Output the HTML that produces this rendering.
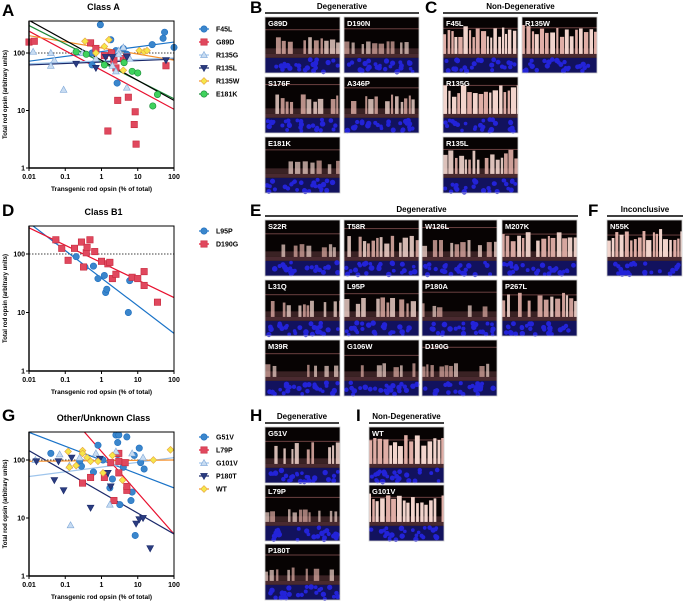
<!DOCTYPE html>
<html><head><meta charset="utf-8">
<style>
html,body{margin:0;padding:0;background:#fff;width:683px;height:604px;overflow:hidden}
svg{display:block;font-family:"Liberation Sans",sans-serif}
</style></head>
<body>
<svg id="fig" width="683" height="604" viewBox="0 0 683 604" xmlns="http://www.w3.org/2000/svg">
<defs>
<clipPath id="clipA"><rect x="29" y="21" width="145" height="147"/></clipPath>
<clipPath id="clipD"><rect x="29" y="226" width="145" height="145"/></clipPath>
<clipPath id="clipG"><rect x="29" y="432" width="145" height="144"/></clipPath>
</defs>
<g id="charts"></g>
<g id="tiles"></g>
</svg>
<script>
// ---- Panel A data ----
const A_F45L = [[0.93,310],[1.8,170],[0.55,100],[0.55,62],[2.7,30],[4,120],[5,95],[25,140],[50,180],[55,230],[100,125],[2.5,110]];
const A_G89D = [[0.01,155],[0.014,160],[0.5,150],[0.7,120],[1.2,90],[1.9,100],[2.2,75],[2.5,55],[2.8,15],[4,80],[5.5,17],[8,5.7],[8.5,9.5],[9,2.6],[1.5,4.4],[60,60],[5,85]];
const A_R135G = [[0.013,105],[0.04,100],[0.04,60],[0.05,75],[0.09,23],[0.3,100],[0.7,80],[2,60],[2.5,48],[3,110],[4,125],[5,25],[6,80],[3,95]];
const A_R135L = [[0.2,65],[0.7,55],[1.3,85],[2,85],[5,85],[60,75]];
const A_R135W = [[0.35,160],[0.7,100],[1.2,130],[1.6,170],[4,50],[11,110],[15,105],[18,110]];
const A_E181K = [[0.2,105],[0.38,95],[1.2,62],[4.2,68],[7,48],[10,45],[26,12],[35,19]];
const A_fits = [[[0.01,72],[100,155]],[[0.01,240],[100,10.5]],[[0.01,65],[100,82]],[[0.01,62],[100,78]],[[0.01,200],[100,75]],[[0.01,300],[100,16]],[[0.01,370],[100,15]]];
// ---- Panel D data ----
const D_L95P = [[0.055,170],[0.2,90],[0.35,60],[0.6,62],[0.8,38],[1.2,43],[1.3,22],[1.4,25],[6,35],[5.5,10]];
const D_D190G = [[0.055,175],[0.08,125],[0.12,78],[0.18,125],[0.28,160],[0.32,60],[0.38,105],[0.4,130],[0.48,175],[0.65,110],[1,75],[1.5,68],[1.7,72],[2,38],[2.5,45],[7,40],[10,38],[15,50],[15,29],[35,15]];
const D_fits = [[[0.01,340],[100,4.4]],[[0.01,280],[100,18]]];
// ---- Panel G data ----
const G_G51V = [[0.04,130],[0.25,95],[0.28,78],[0.6,62],[0.8,180],[1.1,100],[1.3,55],[1.7,33],[2,47],[2.5,270],[2.8,200],[3,270],[3.2,17],[5,250],[6.5,20],[7,28],[8,120],[8.5,5],[11,160],[12,90],[15,70],[4,75],[2.8,125]];
const G_L79P = [[0.3,40],[0.5,50],[1.8,90],[1.2,50],[2.2,20],[3,95],[3,60],[3,130],[4.5,90],[5,30],[5,35]];
const G_G101V = [[0.015,100],[0.07,125],[0.14,7.5],[0.25,110],[0.7,130],[1.7,17],[2.5,140],[7,130],[14,110],[0.13,80]];
const G_P180T = [[0.016,95],[0.05,45],[0.065,95],[0.09,30],[0.15,110],[0.5,15],[0.9,105],[1.5,60],[1.8,35],[9,8],[11,9.5],[14,10],[22,3]];
const G_WT = [[0.12,140],[0.13,75],[0.2,80],[0.3,145],[0.4,110],[0.5,95],[0.8,95],[1.1,60],[2,120],[3.8,45],[27,100],[80,150],[0.3,130]];
const G_fits = [[[0.01,300],[100,33]],[[0.3,330],[100,5.3]],[[0.01,52],[100,110]],[[0.01,145],[100,5.3]],[[0.01,95],[100,100]]];
const xTicks = [0.01,0.1,1,10,100];
const xTickLabels = ["0.01","0.1","1","10","100"];
const yTicks = [1,10,100];
const yTickLabels = ["1","10","100"];

const NS="http://www.w3.org/2000/svg";
const root=document.getElementById('charts');
function el(tag,attrs,parent){const e=document.createElementNS(NS,tag);for(const k in attrs)e.setAttribute(k,attrs[k]);(parent||root).appendChild(e);return e;}
function txt(s,attrs,parent){const t=el('text',attrs,parent);t.textContent=s;return t;}

const ST={
 blue:{c:'#1f6fbf',f:'#3a86cc',m:'circle',l:'#1a73c8'},
 red:{c:'#c8283c',f:'#e0485e',m:'square',l:'#e8102e'},
 lblue:{c:'#7fa8d8',f:'#c8dcf2',m:'tri',l:'#9fc5ec'},
 navy:{c:'#1b2a6b',f:'#2a3c80',m:'itri',l:'#1b2a6b'},
 orange:{c:'#e8a040',f:'#f5e64a',m:'diamond',l:'#f5902a'},
 green:{c:'#1c8a3a',f:'#3fd25c',m:'circle',l:'#1c8a3a'},
 black:{l:'#000'}
};
function marker(g,st,x,y,name){
 let e;
 if(st.m==='circle') e=el('circle',{cx:x,cy:y,r:3.2,fill:st.f,stroke:st.c,'stroke-width':0.6},g);
 else if(st.m==='square') e=el('rect',{x:x-3.2,y:y-3.2,width:6.4,height:6.4,fill:st.f,stroke:st.c,'stroke-width':0.6},g);
 else if(st.m==='tri') e=el('polygon',{points:`${x},${y-3.5} ${x+3.4},${y+2.6} ${x-3.4},${y+2.6}`,fill:st.f,stroke:st.c,'stroke-width':0.6},g);
 else if(st.m==='itri') e=el('polygon',{points:`${x},${y+3.5} ${x+3.4},${y-2.6} ${x-3.4},${y-2.6}`,fill:st.f,stroke:st.c,'stroke-width':0.6},g);
 else e=el('polygon',{points:`${x},${y-3.4} ${x+3.4},${y} ${x},${y+3.4} ${x-3.4},${y}`,fill:st.f,stroke:st.c,'stroke-width':0.6},g);
 
 
 return e;
}
function chart(cfg){
 const {x0,x1,yBot,yTop,topVal,title,clip,series,fits,legendY,id}=cfg;
 const g=el('g',{});
 
 
 const X=v=>x0+(Math.log10(v)+2)/4*(x1-x0);
 const dec=(yBot-yTop)/Math.log10(topVal);
 const Y=v=>yBot-Math.log10(v)*dec;
 const t=txt(title,{x:(x0+x1)/2+2,y:yTop-11,'font-size':9,'font-weight':'bold','text-anchor':'middle'},g);
 
 const dl=el('line',{x1:x0,x2:x1,y1:Y(100),y2:Y(100),stroke:'#000','stroke-width':0.7,'stroke-dasharray':'1.5,1.5'},g);
 
 const cg=el('g',{'clip-path':`url(#${clip})`},g);
 fits.forEach((f,i)=>{const st=ST[f.s];
  const ln=el('line',{x1:X(f.p[0][0]),y1:Y(f.p[0][1]),x2:X(f.p[1][0]),y2:Y(f.p[1][1]),stroke:st.l,'stroke-width':1.2},cg);
  });
 series.forEach(s=>{const st=ST[s.s];s.d.forEach(p=>marker(g,st,X(p[0]),Y(p[1]),id+'-point-'+s.n.toLowerCase()));});
 const fr=el('rect',{x:x0,y:yTop,width:x1-x0,height:yBot-yTop,fill:'none',stroke:'#000','stroke-width':1},g);
 
 el('line',{x1:x0,x2:x0,y1:yTop,y2:yBot,stroke:'#000','stroke-width':1.4},g);
 el('line',{x1:x0,x2:x1,y1:yBot,y2:yBot,stroke:'#000','stroke-width':1.4},g);
 xTicks.forEach((v,i)=>{el('line',{x1:X(v),x2:X(v),y1:yBot,y2:yBot+3,stroke:'#000','stroke-width':1},g);
  const tl=txt(xTickLabels[i],{x:X(v),y:yBot+11,'font-size':7,'font-weight':'bold','text-anchor':'middle'},g);
  });
 yTicks.forEach((v,i)=>{el('line',{x1:x0-3,x2:x0,y1:Y(v),y2:Y(v),stroke:'#000','stroke-width':1},g);
  const tl=txt(yTickLabels[i],{x:x0-4,y:Y(v)+2.5,'font-size':7,'font-weight':'bold','text-anchor':'end'},g);
  });
 const xt=txt('Transgenic rod opsin (% of total)',{x:(x0+x1)/2,y:yBot+23,'font-size':6.5,'font-weight':'bold','text-anchor':'middle'},g);
 
 const yc=(yTop+yBot)/2;
 const yt=txt('Total rod opsin (arbitrary units)',{x:7,y:yc,'font-size':6,'font-weight':'bold','text-anchor':'middle',transform:`rotate(-90 7 ${yc})`},g);
 
 series.forEach((s,i)=>{const st=ST[s.s];const ly=legendY+i*13;
  const lg=el('g',{},g);
  
  el('line',{x1:199,x2:209,y1:ly,y2:ly,stroke:st.l,'stroke-width':1.2},lg);
  marker(lg,st,204,ly,'legend-marker');
  txt(s.n,{x:216,y:ly+2.5,'font-size':7,'font-weight':'bold'},lg);});
}
chart({id:'class-a',x0:29,x1:174,yBot:168,yTop:21,topVal:Math.pow(10,147/57.5),title:'Class A',clip:'clipA',legendY:29,
 series:[{n:'F45L',s:'blue',d:A_F45L},{n:'G89D',s:'red',d:A_G89D},{n:'R135G',s:'lblue',d:A_R135G},{n:'R135L',s:'navy',d:A_R135L},{n:'R135W',s:'orange',d:A_R135W},{n:'E181K',s:'green',d:A_E181K}],
 fits:[{n:'f45l',s:'blue',p:A_fits[0]},{n:'g89d',s:'red',p:A_fits[1]},{n:'r135g',s:'lblue',p:A_fits[2]},{n:'r135l',s:'navy',p:A_fits[3]},{n:'r135w',s:'orange',p:A_fits[4]},{n:'e181k',s:'green',p:A_fits[5]},{n:'all',s:'black',p:A_fits[6]}]});
chart({id:'class-b1',x0:29,x1:174,yBot:371,yTop:226,topVal:Math.pow(10,145/58.5),title:'Class B1',clip:'clipD',legendY:231,
 series:[{n:'L95P',s:'blue',d:D_L95P},{n:'D190G',s:'red',d:D_D190G}],
 fits:[{n:'l95p',s:'blue',p:D_fits[0]},{n:'d190g',s:'red',p:D_fits[1]}]});
chart({id:'other-class',x0:29,x1:174,yBot:576,yTop:432,topVal:Math.pow(10,144/58),title:'Other/Unknown Class',clip:'clipG',legendY:437,
 series:[{n:'G51V',s:'blue',d:G_G51V},{n:'L79P',s:'red',d:G_L79P},{n:'G101V',s:'lblue',d:G_G101V},{n:'P180T',s:'navy',d:G_P180T},{n:'WT',s:'orange',d:G_WT}],
 fits:[{n:'g51v',s:'blue',p:G_fits[0]},{n:'l79p',s:'red',p:G_fits[1]},{n:'g101v',s:'lblue',p:G_fits[2]},{n:'p180t',s:'navy',p:G_fits[3]},{n:'wt',s:'orange',p:G_fits[4]}]});

const letters=[['A',2,16],['D',2,216],['G',2,421],['B',250,13],['C',425,13],['E',250,216],['F',588,216],['H',250,421],['I',356,421]];
letters.forEach(l=>{const t=txt(l[0],{x:l[1],y:l[2],'font-size':17,'font-weight':'bold'});
 });

const tg=document.getElementById('tiles');
const headers=[['Degenerative',265,419,13],['Non-Degenerative',443,598,13],['Degenerative',265,578,216],['Inconclusive',607,683,216],['Degenerative',265,339,423],['Non-Degenerative',369,444,423]];
headers.forEach(h=>{const g=el('g',{},tg);
 
 el('line',{x1:h[1],x2:h[2],y1:h[3],y2:h[3],stroke:'#000','stroke-width':1.6},g);
 txt(h[0],{x:(h[1]+h[2])/2,y:h[3]-4,'font-size':8,'font-weight':'bold','text-anchor':'middle'},g);});

// micrograph texture (decorative, not chart data)
let seed=12345;
function rnd(){seed=(seed*1103515245+12345)%2147483648;return seed/2147483648;}
const tiles=[
 ['G89D',265,17],['D190N',344,17],['S176F',265,77],['A346P',344,77],['E181K',265,137],
 ['F45L',443,17],['R135W',522,17],['R135G',443,77],['R135L',443,137],
 ['S22R',265,220],['T58R',344,220],['W126L',422,220],['M207K',502,220],
 ['L31Q',265,280],['L95P',344,280],['P180A',422,280],['P267L',502,280],
 ['M39R',265,340],['G106W',344,340],['D190G',422,340],['N55K',607,220],
 ['G51V',265,427],['L79P',265,485],['P180T',265,544],['WT',369,427],['G101V',369,485]];
const bright={F45L:1,R135W:1,R135G:1,N55K:1,WT:1,G101V:1,M207K:0.9,P267L:0.8,T58R:0.7,R135L:0.8,G51V:0.7,S176F:0.6,A346P:0.6,L95P:0.6,G89D:0.55,W126L:0.5,L31Q:0.5};
tiles.forEach(t=>{const g=el('g',{},tg);
 
 const x=t[1],y=t[2],w=75,h=56;const b=bright[t[0]]||0.35;
 el('rect',{x:x,y:y,width:w,height:h,fill:'#070303'},g);
 // faint pink membrane line
 el('rect',{x:x,y:y+h*(0.12+rnd()*0.15),width:w,height:1,fill:'#6a4040'},g);
 const base=y+h*0.66;
 // inner segment haze
 el('rect',{x:x,y:base-h*0.1,width:w,height:h*0.1,fill:'#3a2224'},g);
 let cx=x;
 while(cx<x+w-1){
  const bw=2+rnd()*3.5;
  const hh=h*(0.1+b*0.38*(0.5+rnd()*0.6));
  if(rnd()<0.35+0.6*b){
   const c=rnd()<0.5?'#f2d4cc':'#e0aea6';
   el('rect',{x:cx,y:base-hh,width:Math.min(bw,x+w-cx),height:hh,fill:c,opacity:0.55+0.45*b},g);
  }
  cx+=bw+0.6+rnd()*(2.5-1.5*b);
 }
 el('rect',{x:x,y:base,width:w,height:h*0.07,fill:'#4a2a30'},g);
 el('rect',{x:x,y:base+h*0.07,width:w,height:h*0.27,fill:'#12125e'},g);
 for(let i=0;i<26;i++){
  el('circle',{cx:x+2+rnd()*(w-4),cy:base+h*0.1+rnd()*h*0.22,r:1.8+rnd(),fill:'#2323d8'},g);
 }
 el('rect',{x:x,y:y,width:w,height:h,fill:'none',stroke:'#ccc','stroke-width':0.8},g);
 txt(t[0],{x:x+3,y:y+9,'font-size':7.5,'font-weight':'bold',fill:'#fff'},g);});
</script>
</body></html>
